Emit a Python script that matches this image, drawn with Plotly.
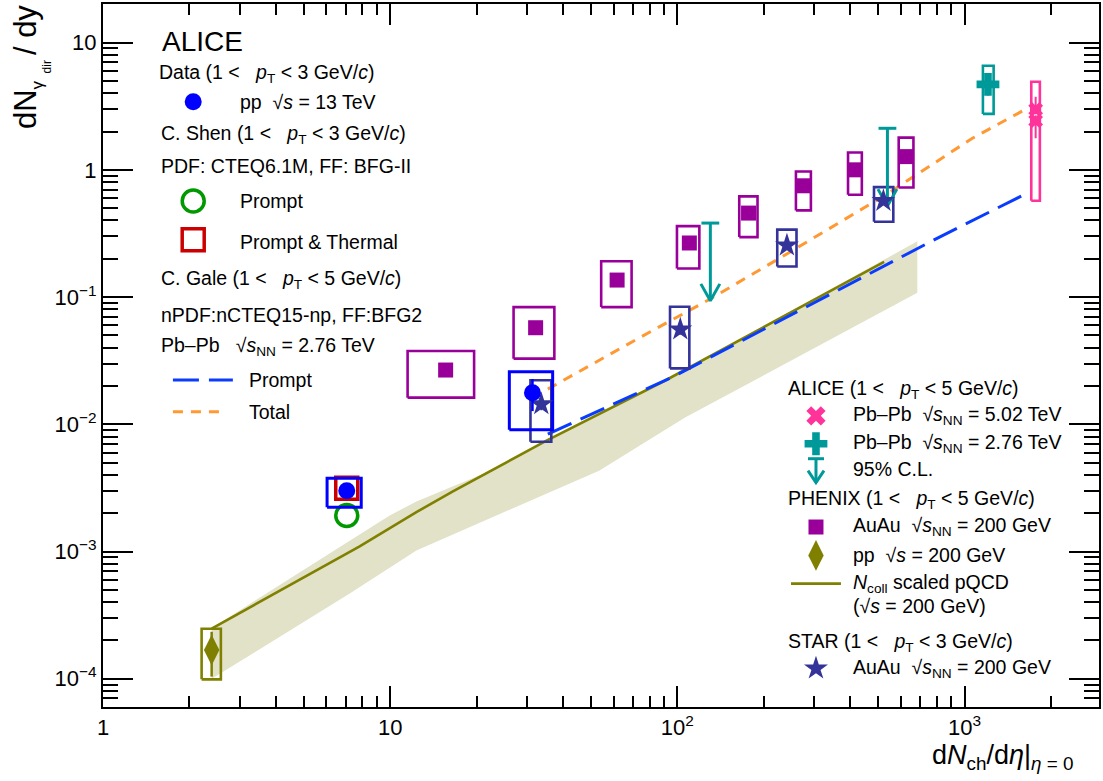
import numpy as np
import plotly.graph_objects as go

FONT = "Liberation Sans, Arial, Helvetica, sans-serif"

# ---------------- data ----------------
# ALICE pp sqrt(s)=13 TeV
alice_pp_x = [7.06, 31.3]
alice_pp_y = [3.0e-3, 1.77e-2]
alice_pp_yerr = [0.25e-3, 0.005]
alice_pp_box_xlo = [6.03, 26.0]
alice_pp_box_xhi = [7.93, 36.8]
alice_pp_box_ylo = [2.23e-3, 9.06e-3]
alice_pp_box_yhi = [3.76e-3, 2.59e-2]

# C. Shen model (pp)
shen_x = [7.06]
shen_prompt_y = [1.92e-3]
shen_thermal_y = [3.14e-3]

# C. Gale model (Pb-Pb 2.76 TeV)
gale_prompt_x = [35.4, 98.0, 786.5, 1610]
gale_prompt_y = [8.37e-3, 0.024, 0.283, 0.637]
gale_total_x = [35.4, 73.8, 129.2, 238.8, 532, 1065, 1653]
gale_total_y = [0.0189, 0.0479, 0.0957, 0.216, 0.637, 1.77, 3.04]

# ALICE Pb-Pb 5.02 TeV
alice502_x = [1769, 1769]
alice502_y = [2.98, 2.43]
alice502_yerr_plus = [0.77, 0.25]
alice502_yerr_minus = [0.25, 0.66]
alice502_box_xlo = [1708]
alice502_box_xhi = [1830]
alice502_box_ylo = [0.571]
alice502_box_yhi = [4.92]

# ALICE Pb-Pb 2.76 TeV
alice276_x = [1207]
alice276_y = [4.69]
alice276_yerr = [0.85]
alice276_box_xlo = [1159]
alice276_box_xhi = [1263]
alice276_box_ylo = [2.75]
alice276_box_yhi = [6.57]

# ALICE 95% C.L. upper limits
alice_ul_x = [130.3, 539]
alice_ul_y = [0.3815, 2.12]

# PHENIX Au-Au 200 GeV
phenix_x = [15.6, 32.1, 61.7, 110.1, 177, 274.3, 415, 624.5]
phenix_y = [0.0267, 0.0574, 0.136, 0.266, 0.457, 0.749, 1.00, 1.27]
phenix_box_xlo = [11.5, 26.9, 54.3, 99.7, 164.3, 258.8, 393, 590]
phenix_box_xhi = [19.6, 37.3, 69.3, 119.3, 190.2, 291.8, 439, 664]
phenix_box_ylo = [0.0162, 0.0328, 0.0834, 0.1675, 0.296, 0.48, 0.637, 0.727]
phenix_box_yhi = [0.0377, 0.0834, 0.191, 0.361, 0.618, 0.970, 1.367, 1.79]

# PHENIX pp 200 GeV
phenix_pp_x = [2.39]
phenix_pp_y = [1.68e-4]
phenix_pp_yerr_plus = [0.66e-4]
phenix_pp_yerr_minus = [0.64e-4]
phenix_pp_box_xlo = [2.205]
phenix_pp_box_xhi = [2.573]
phenix_pp_box_ylo = [0.99e-4]
phenix_pp_box_yhi = [2.47e-4]

# Ncoll scaled pQCD (200 GeV) curve and its band
ncoll_x = [2.39, 7.83, 12.34, 16.54, 34.9, 90.1, 525]
ncoll_y = [2.48e-4, 1.10e-3, 2.04e-3, 2.97e-3, 7.41e-3, 0.0219, 0.189]
band_up_x = [2.39, 9.96, 12.34, 21.0, 34.9, 90.1, 685]
band_up_y = [2.5e-4, 1.92e-3, 2.47e-3, 4.07e-3, 7.41e-3, 0.0219, 0.274]
band_lo_x = [2.39, 7.23, 12.34, 53.4, 106.4, 685]
band_lo_y = [1.0e-4, 4.67e-4, 1.02e-3, 4.32e-3, 0.0113, 0.108]

# STAR Au-Au 200 GeV
star_x = [33.6, 102.4, 240.8, 521.9]
star_y = [0.0144, 0.0557, 0.255, 0.571]
star_yerr = [0.0015, 0.005, 0.02, 0.04]
star_box_xlo = [30.8, 94.3, 222.8, 484]
star_box_xhi = [36.4, 110.1, 260, 565]
star_box_ylo = [0.0073, 0.0275, 0.174, 0.391]
star_box_yhi = [0.0222, 0.0838, 0.339, 0.731]

# axis ticks
x_tickvals = [1, 10, 100, 1000]
x_ticktext = ["1", "10", "10<sup>2</sup>", "10<sup>3</sup>"]
y_tickvals = [1e-4, 1e-3, 1e-2, 1e-1, 1, 10]
y_ticktext = ["10<sup>\u22124</sup>", "10<sup>\u22123</sup>", "10<sup>\u22122</sup>",
              "10<sup>\u22121</sup>", "1", "10"]

# ---------------- styles ----------------
C_BLUE = "#0000ff"
C_GREEN = "#009900"
C_RED = "#cc0000"
C_PURPLE = "#990099"
C_OLIVE = "#808000"
C_BAND = "rgba(226,226,200,1)"
C_TEAL = "#009999"
C_PINK = "#ff3399"
C_PROMPT = "#0a3cff"
C_ORANGE = "#ff9933"
C_STAR = "#333399"

W, H = 1103, 781
ML, MR, MT, MB = 103, 3, 2, 74
X_RANGE = [0.0, np.log10(2940)]
Y_RANGE = [np.log10(6.0e-5), np.log10(20.1)]


def rects(xlo, xhi, ylo, yhi):
    xs, ys = [], []
    for a, b, c, d in zip(xlo, xhi, ylo, yhi):
        xs += [a, b, b, a, a, None]
        ys += [c, c, d, d, c, None]
    return xs, ys


def box_trace(xlo, xhi, ylo, yhi, color, width=2.6):
    xs, ys = rects(xlo, xhi, ylo, yhi)
    return go.Scatter(x=xs, y=ys, mode="lines", line=dict(color=color, width=width),
                      hoverinfo="skip")


fig = go.Figure()

# Ncoll band
fig.add_trace(go.Scatter(x=band_up_x + band_lo_x[::-1], y=band_up_y + band_lo_y[::-1],
                         mode="lines", fill="toself", fillcolor=C_BAND,
                         line=dict(width=0, color=C_BAND), hoverinfo="skip"))
# Ncoll line
fig.add_trace(go.Scatter(x=ncoll_x, y=ncoll_y, mode="lines",
                         line=dict(color=C_OLIVE, width=2.6)))
# Gale curves
fig.add_trace(go.Scatter(x=gale_prompt_x, y=gale_prompt_y, mode="lines",
                         line=dict(color=C_PROMPT, width=3, dash="26px,10px")))
fig.add_trace(go.Scatter(x=gale_total_x, y=gale_total_y, mode="lines",
                         line=dict(color=C_ORANGE, width=3, dash="10px,8px")))

# systematic boxes
fig.add_trace(box_trace(phenix_box_xlo, phenix_box_xhi, phenix_box_ylo, phenix_box_yhi, C_PURPLE))
fig.add_trace(box_trace(phenix_pp_box_xlo, phenix_pp_box_xhi, phenix_pp_box_ylo, phenix_pp_box_yhi, C_OLIVE))
fig.add_trace(box_trace(star_box_xlo, star_box_xhi, star_box_ylo, star_box_yhi, C_STAR))
fig.add_trace(box_trace(alice502_box_xlo, alice502_box_xhi, alice502_box_ylo, alice502_box_yhi, C_PINK))
fig.add_trace(box_trace(alice276_box_xlo, alice276_box_xhi, alice276_box_ylo, alice276_box_yhi, C_TEAL))

# Shen model markers
fig.add_trace(go.Scatter(x=shen_x, y=shen_prompt_y, mode="markers",
                         marker=dict(symbol="circle-open", size=22, color=C_GREEN,
                                     line=dict(width=3.5, color=C_GREEN))))
fig.add_trace(go.Scatter(x=shen_x, y=shen_thermal_y, mode="markers",
                         marker=dict(symbol="square-open", size=22, color=C_RED,
                                     line=dict(width=3.5, color=C_RED))))
fig.add_trace(box_trace(alice_pp_box_xlo, alice_pp_box_xhi, alice_pp_box_ylo, alice_pp_box_yhi, C_BLUE, 3))

# upper-limit arrows
ARROW_DEX, CAP_DEX, HEAD_W, HEAD_H = 0.611, 0.031, 0.033, 0.133
ax, ay = [], []
for x, y in zip(alice_ul_x, alice_ul_y):
    tip = y * 10 ** (-ARROW_DEX)
    ax += [x, x, None, x * 10 ** (-CAP_DEX), x * 10 ** CAP_DEX, None,
           x * 10 ** (-HEAD_W), x, x * 10 ** HEAD_W, None]
    ay += [y, tip, None, y, y, None,
           tip * 10 ** HEAD_H, tip, tip * 10 ** HEAD_H, None]
fig.add_trace(go.Scatter(x=ax, y=ay, mode="lines", line=dict(color=C_TEAL, width=3)))

# data markers
fig.add_trace(go.Scatter(x=phenix_x, y=phenix_y, mode="markers",
                         marker=dict(symbol="square", size=15, color=C_PURPLE)))
fig.add_trace(go.Scatter(x=phenix_pp_x, y=phenix_pp_y, mode="markers",
                         error_y=dict(type="data", array=phenix_pp_yerr_plus,
                                      arrayminus=phenix_pp_yerr_minus,
                                      color=C_OLIVE, thickness=2.5, width=0),
                         marker=dict(symbol="diamond-tall", size=22, color=C_OLIVE)))
fig.add_trace(go.Scatter(x=star_x, y=star_y, mode="markers",
                         error_y=dict(type="data", array=star_yerr, color=C_STAR,
                                      thickness=2, width=0),
                         marker=dict(symbol="star", size=18, color=C_STAR)))
fig.add_trace(go.Scatter(x=alice_pp_x, y=alice_pp_y, mode="markers",
                         error_y=dict(type="data", array=alice_pp_yerr, color=C_BLUE,
                                      thickness=2.5, width=0),
                         marker=dict(symbol="circle", size=17, color=C_BLUE)))
fig.add_trace(go.Scatter(x=alice276_x, y=alice276_y, mode="markers",
                         error_y=dict(type="data", array=alice276_yerr, color=C_TEAL,
                                      thickness=2.5, width=0),
                         marker=dict(symbol="cross", size=19, color=C_TEAL)))
fig.add_trace(go.Scatter(x=alice502_x, y=alice502_y, mode="markers",
                         error_y=dict(type="data", array=alice502_yerr_plus,
                                      arrayminus=alice502_yerr_minus,
                                      color=C_PINK, thickness=2, width=0),
                         marker=dict(symbol="x", size=13, color=C_PINK)))

# ---------------- legend (pixel overlay axes) ----------------
def lg(**kw):
    kw.setdefault("hoverinfo", "skip")
    fig.add_trace(go.Scatter(xaxis="x2", yaxis="y2", **kw))

MX = 193.3
lg(x=[MX], y=[100], mode="markers", marker=dict(symbol="circle", size=17, color=C_BLUE))
lg(x=[MX], y=[199.5], mode="markers",
   marker=dict(symbol="circle-open", size=22, color=C_GREEN, line=dict(width=3.5, color=C_GREEN)))
lg(x=[MX], y=[238.5], mode="markers",
   marker=dict(symbol="square-open", size=22, color=C_RED, line=dict(width=3.5, color=C_RED)))
lg(x=[173, 233], y=[379, 379], mode="lines", line=dict(color=C_PROMPT, width=3, dash="26px,10px"))
lg(x=[173, 226], y=[411, 411], mode="lines", line=dict(color=C_ORANGE, width=3, dash="10px,8px"))

RX = 816.7
lg(x=[RX], y=[415], mode="markers", marker=dict(symbol="x", size=17, color=C_PINK))
lg(x=[RX], y=[443], mode="markers", marker=dict(symbol="cross", size=19, color=C_TEAL))
lg(x=[RX, RX, None, RX - 8, RX + 8, None, RX - 8, RX, RX + 8],
   y=[458, 482, None, 458, 458, None, 470, 482, 470],
   mode="lines", line=dict(color=C_TEAL, width=3))
lg(x=[RX], y=[526.5], mode="markers", marker=dict(symbol="square", size=15, color=C_PURPLE))
lg(x=[RX], y=[555], mode="markers", marker=dict(symbol="diamond-tall", size=22, color=C_OLIVE))
lg(x=[791.7, 841.7], y=[583.3, 583.3], mode="lines", line=dict(color=C_OLIVE, width=2.6))
lg(x=[RX], y=[668.3], mode="markers", marker=dict(symbol="star", size=18, color=C_STAR))


def px(x):
    return (x - ML) / (W - ML - MR)


def py(y):
    return (H - MB - y) / (H - MT - MB)


ann = []
LS = 19.5


def txt(x, y, s, size=LS, **kw):
    d = dict(x=px(x), y=py(y), xref="paper", yref="paper", text=s, showarrow=False,
             xanchor="left", yanchor="middle", font=dict(family=FONT, size=size, color="black"))
    d.update(kw)
    ann.append(d)


NB = "\u00a0"
PT = "<i>p</i><sub>T</sub>"
SNN = "\u221a<i>s</i><sub>NN</sub>"
SS = "\u221a<i>s</i>"

txt(160, 40, "ALICE", size=28)
txt(157, 72, f"Data (1 &lt;{NB}{NB}{NB}{PT} &lt; 3 GeV/<i>c</i>)")
txt(238, 100, f"pp{NB}{NB}{SS} = 13 TeV")
txt(159, 133, f"C. Shen (1 &lt;{NB}{NB}{NB}{PT} &lt; 3 GeV/<i>c</i>)")
txt(159, 164.5, "PDF: CTEQ6.1M, FF: BFG-II")
txt(238, 200, "Prompt")
txt(238, 241, "Prompt &amp; Thermal")
txt(159, 278.5, f"C. Gale (1 &lt;{NB}{NB}{NB}{PT} &lt; 5 GeV/<i>c</i>)")
txt(159, 314, "nPDF:nCTEQ15-np, FF:BFG2")
txt(159, 345, f"Pb\u2013Pb{NB}{NB}{NB}{SNN} = 2.76 TeV")
txt(247, 379, "Prompt")
txt(247, 411, "Total")

txt(787, 388.5, f"ALICE (1 &lt;{NB}{NB}{NB}{PT} &lt; 5 GeV/<i>c</i>)")
txt(852, 415, f"Pb\u2013Pb{NB}{NB}{SNN} = 5.02 TeV")
txt(852, 443, f"Pb\u2013Pb{NB}{NB}{SNN} = 2.76 TeV")
txt(852, 468.5, "95% C.L.")
txt(787, 498.5, f"PHENIX (1 &lt;{NB}{NB}{NB}{PT} &lt; 5 GeV/<i>c</i>)")
txt(852, 526, f"AuAu{NB}{NB}{SNN} = 200 GeV")
txt(852, 555, f"pp{NB}{NB}{SS} = 200 GeV")
txt(852, 583, "<i>N</i><sub>coll</sub> scaled pQCD")
txt(852, 605.5, f"({SS} = 200 GeV)")
txt(787, 642, f"STAR (1 &lt;{NB}{NB}{NB}{PT} &lt; 3 GeV/<i>c</i>)")
txt(852, 668.5, f"AuAu{NB}{NB}{SNN} = 200 GeV")

# axis titles
ann.append(dict(x=px(1077), y=py(757), xref="paper", yref="paper", showarrow=False,
                xanchor="right", yanchor="middle",
                text="d<i>N</i><sub>ch</sub>/d<i>\u03b7</i>|<sub><i>\u03b7</i> = 0</sub>",
                font=dict(family=FONT, size=27, color="black")))
ann.append(dict(x=px(27), y=py(1), xref="paper", yref="paper", showarrow=False,
                xanchor="center", yanchor="top", textangle=-90,
                text=f"dN<sub><span style='font-size:17px'>\u03b3</span></sub>{NB}{NB}{NB}/ dy",
                font=dict(family=FONT, size=31, color="black")))
ann.append(dict(x=px(46.5), y=py(65), xref="paper", yref="paper", showarrow=False,
                xanchor="center", yanchor="middle", textangle=-90,
                text="dir", font=dict(family=FONT, size=12, color="black")))

x_minor = [m * 10 ** e for e in range(0, 4) for m in range(2, 10) if m * 10 ** e < 2940]
y_minor = [m * 10 ** e for e in range(-5, 2) for m in range(2, 10) if 6e-5 < m * 10 ** e < 20.1]

axis_common = dict(type="log", showgrid=False, zeroline=False, showline=True,
                   linecolor="black", linewidth=2, mirror="allticks", ticks="inside",
                   tickcolor="black", tickwidth=2, tickmode="array",
                   tickfont=dict(family=FONT, size=22, color="black"))

fig.update_layout(
    width=W, height=H,
    margin=dict(l=ML, r=MR, t=MT, b=MB, pad=0),
    paper_bgcolor="white", plot_bgcolor="white",
    showlegend=False,
    xaxis=dict(axis_common, range=X_RANGE, tickvals=x_tickvals, ticktext=x_ticktext,
               ticklen=21,
               minor=dict(ticks="inside", ticklen=11, tickwidth=2, tickcolor="black",
                          tickmode="array", tickvals=x_minor, showgrid=False)),
    yaxis=dict(axis_common, range=Y_RANGE, tickvals=y_tickvals, ticktext=y_ticktext,
               ticklen=30,
               minor=dict(ticks="inside", ticklen=15, tickwidth=2, tickcolor="black",
                          tickmode="array", tickvals=y_minor, showgrid=False)),
    xaxis2=dict(overlaying="x", range=[ML, W - MR], visible=False, showgrid=False),
    yaxis2=dict(overlaying="y", range=[H - MB, MT], visible=False, showgrid=False),
    annotations=ann,
)

fig.write_html("out.html", config={"displayModeBar": False},
               post_script="document.body.style.margin='0';")
